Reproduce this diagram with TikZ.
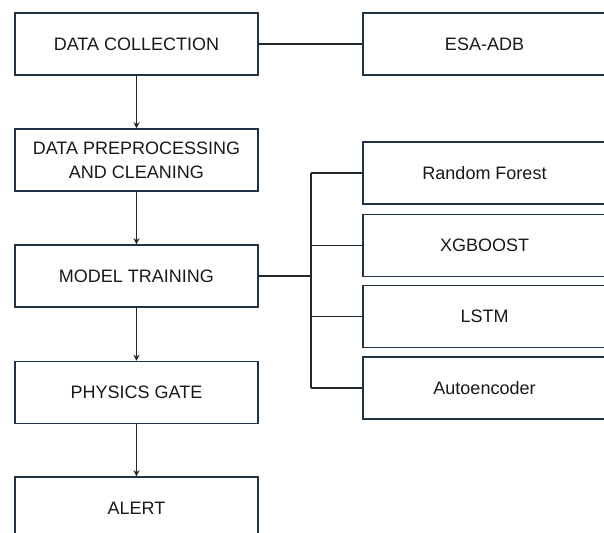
\documentclass[tikz,border=0pt]{standalone}
\usepackage{fontspec}
\setmainfont{Liberation Sans}
\usetikzlibrary{arrows.meta}
\definecolor{boxline}{HTML}{1F3246}
\tikzset{
  stage/.style={draw=boxline, line width=1.5pt, fill=white, minimum width=243pt,
    minimum height=62pt, align=center, inner sep=0pt, text=black!90,
    font=\fontsize{18}{24}\selectfont},
  link/.style={line width=1.6pt, black!85},
  flow/.style={link, -{Stealth[length=6pt,width=6pt]}}
}
\begin{document}
\begin{tikzpicture}[x=1pt,y=-1pt]
    \useasboundingbox[fill=white] (0,0) rectangle (604,532);
    % left column
    \node[stage] (dc)  at (136.5,44)  {DATA COLLECTION};
    \node[stage] (pre) at (136.5,160) {DATA PREPROCESSING\\AND CLEANING};
    \node[stage] (mt)  at (136.5,276) {MODEL TRAINING};
    \node[stage] (pg)  at (136.5,392.5) {PHYSICS GATE};
    \node[stage] (al)  at (136.5,508) {ALERT};
    % right column
    \node[stage] (esa)  at (484.5,44)    {ESA-ADB};
    \node[stage] (rf)   at (484.5,173)   {Random Forest};
    \node[stage] (xgb)  at (484.5,245.5) {XGBOOST};
    \node[stage] (lstm) at (484.5,316.5) {LSTM};
    \node[stage] (auto) at (484.5,388)   {Autoencoder};
    \draw[link] (dc) -- (esa);
    \foreach \a/\b in {dc/pre, pre/mt, mt/pg, pg/al}
    \draw[flow] (\a) -- (\b);
    % model branches
    \coordinate (split) at (311,276);
    \draw[link, line width=2pt] (mt) -- (split);
    \draw[link] (split |- rf.west) -- (split |- auto.west);
    \foreach \m in {rf, xgb, lstm, auto}
    \draw[link] (split |- \m.west) -- (\m.west);
\end{tikzpicture}
\end{document}
